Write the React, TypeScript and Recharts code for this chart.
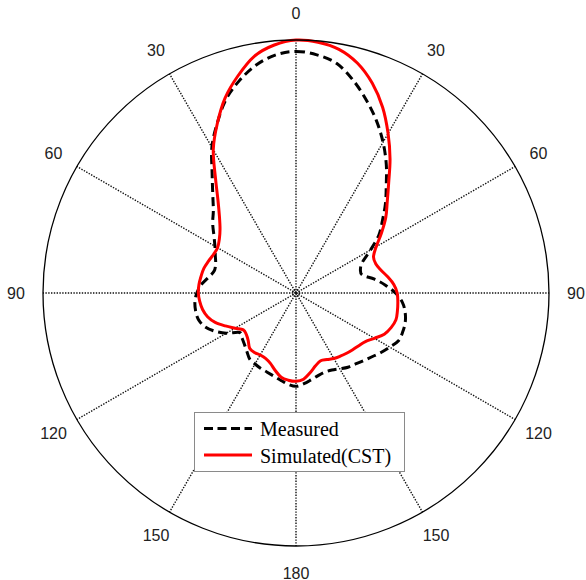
import React from 'react';
import { RadarChart, Radar, PolarGrid, PolarAngleAxis, PolarRadiusAxis, Legend } from 'recharts';

// azimuth in degrees, clockwise from boresight
const ANGLES = [
  0, 5, 10, 15, 20, 25, 30, 35, 40, 45, 50, 55, 60, 65, 70, 75, 80, 85,
  90, 95, 100, 105, 110, 115, 120, 125, 130, 135, 140, 145, 150, 155, 160, 165, 170, 175,
  180, 185, 190, 195, 200, 205, 210, 215, 220, 225, 230, 235, 240, 245, 250, 255, 260, 265,
  270, 275, 280, 285, 290, 295, 300, 305, 310, 315, 320, 325, 330, 335, 340, 345, 350, 355,
];

// normalized field magnitude (linear)
const MEASURED = [
  0.955, 0.945, 0.922, 0.871, 0.812, 0.752, 0.688, 0.622, 0.555, 0.5, 0.446, 0.4, 0.34, 0.29, 0.271, 0.272, 0.315, 0.355,
  0.393, 0.422, 0.438, 0.447, 0.449, 0.447, 0.428, 0.41, 0.392, 0.378, 0.366, 0.358, 0.346, 0.336, 0.333, 0.338, 0.348, 0.36,
  0.369, 0.362, 0.35, 0.34, 0.333, 0.329, 0.324, 0.319, 0.302, 0.288, 0.278, 0.272, 0.318, 0.356, 0.385, 0.4, 0.403, 0.401,
  0.392, 0.376, 0.352, 0.335, 0.338, 0.352, 0.37, 0.396, 0.43, 0.462, 0.512, 0.578, 0.665, 0.738, 0.812, 0.868, 0.914, 0.944,
];

const SIMULATED = [
  1.0, 0.995, 0.978, 0.94, 0.882, 0.81, 0.728, 0.648, 0.57, 0.51, 0.463, 0.412, 0.366, 0.338, 0.336, 0.348, 0.368, 0.388,
  0.4, 0.404, 0.407, 0.409, 0.4, 0.385, 0.358, 0.335, 0.324, 0.317, 0.311, 0.305, 0.299, 0.29, 0.285, 0.298, 0.32, 0.342,
  0.349, 0.346, 0.338, 0.317, 0.296, 0.285, 0.283, 0.287, 0.285, 0.267, 0.256, 0.254, 0.278, 0.308, 0.34, 0.362, 0.375, 0.382,
  0.386, 0.385, 0.381, 0.377, 0.368, 0.36, 0.358, 0.37, 0.392, 0.428, 0.48, 0.555, 0.654, 0.737, 0.82, 0.888, 0.95, 0.984,
];

const data = ANGLES.map((angle, i) => ({
  angle,
  measured: MEASURED[i],
  simulated: SIMULATED[i],
}));

const SPOKES = [0, 30, 60, 90, 120, 150, 180, 210, 240, 270, 300, 330];

// closed Catmull-Rom spline through the radar points
const smoothPath = (points: { x: number; y: number }[]) => {
  const n = points.length;
  if (!n) return '';
  let d = `M${points[0].x},${points[0].y}`;
  for (let i = 0; i < n; i++) {
    const p0 = points[(i - 1 + n) % n];
    const p1 = points[i];
    const p2 = points[(i + 1) % n];
    const p3 = points[(i + 2) % n];
    const c1x = p1.x + (p2.x - p0.x) / 6;
    const c1y = p1.y + (p2.y - p0.y) / 6;
    const c2x = p2.x - (p3.x - p1.x) / 6;
    const c2y = p2.y - (p3.y - p1.y) / 6;
    d += ` C${c1x},${c1y} ${c2x},${c2y} ${p2.x},${p2.y}`;
  }
  return d + 'Z';
};

const curve = (stroke: string, dash?: string) => (props: any) => (
  <path
    d={smoothPath(props.points || [])}
    fill="none"
    stroke={stroke}
    strokeWidth={3}
    strokeDasharray={dash}
    strokeLinejoin="round"
  />
);

const AngleTick = (props: any) => {
  const { x, y, payload } = props;
  const v = Number(payload.value);
  if (v % 30 !== 0) return null;
  const label = v <= 180 ? v : 360 - v;
  return (
    <text
      x={x}
      y={y}
      textAnchor="middle"
      dominantBaseline="central"
      fontFamily="'Liberation Sans', Arial, sans-serif"
      fontSize={16}
      fill="#222"
    >
      {label}
    </text>
  );
};

const LegendBox = () => (
  <div
    style={{
      position: 'relative',
      width: 211,
      height: 60,
      boxSizing: 'border-box',
      border: '1px solid #8a8a8a',
      background: '#fff',
      fontFamily: "'Liberation Serif', 'Times New Roman', serif",
      fontSize: 20,
      color: '#000',
    }}
  >
    <svg width={211} height={60} style={{ position: 'absolute', left: -1, top: -1 }}>
      <line x1={10} y1={16.5} x2={58} y2={16.5} stroke="#000" strokeWidth={3} strokeDasharray="9 4.5" />
      <line x1={10} y1={43} x2={58} y2={43} stroke="#ff0000" strokeWidth={3} />
    </svg>
    <span style={{ position: 'absolute', left: 65, top: 16, transform: 'translateY(-50%)', lineHeight: 1 }}>Measured</span>
    <span style={{ position: 'absolute', left: 65, top: 42.5, transform: 'translateY(-50%)', lineHeight: 1 }}>Simulated(CST)</span>
  </div>
);

const App: React.FC = () => {
  return (
    <div style={{ position: 'absolute', left: 0, top: 0, background: '#fff' }}>
      <RadarChart width={586} height={580} data={data} cx={296} cy={293} outerRadius={253}>
        <PolarGrid
          gridType="circle"
          polarAngles={SPOKES}
          polarRadius={[1, 3.5]}
          stroke="#111"
          strokeWidth={1.4}
          strokeDasharray="1.4 1.4"
        />
        <PolarAngleAxis
          dataKey="angle"
          axisLineType="circle"
          axisLine={{ stroke: '#000', strokeWidth: 1.3 }}
          tickLine={false}
          tickSize={27}
          tick={<AngleTick />}
        />
        <PolarRadiusAxis domain={[0, 1]} tick={false} axisLine={false} />
        <Radar
          name="Measured"
          dataKey="measured"
          stroke="#000"
          fill="none"
          dot={false}
          isAnimationActive={false}
          shape={curve('#000', '9 5')}
        />
        <Radar
          name="Simulated(CST)"
          dataKey="simulated"
          stroke="#ff0000"
          fill="none"
          dot={false}
          isAnimationActive={false}
          shape={curve('#ff0000')}
        />
        <Legend
          content={<LegendBox />}
          wrapperStyle={{ left: 194, top: 412, width: 211, height: 60, bottom: 'auto', right: 'auto' }}
        />
      </RadarChart>
    </div>
  );
};

export default App;
